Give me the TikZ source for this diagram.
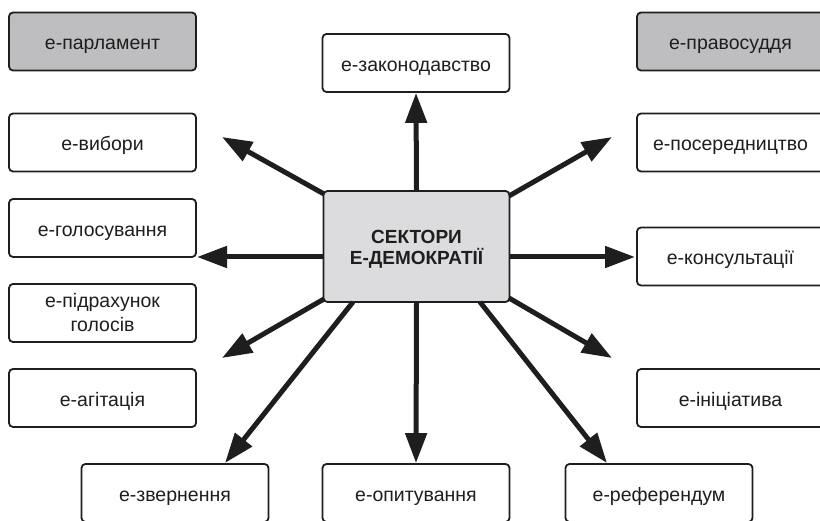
\documentclass[tikz,border=0pt]{standalone}
\usepackage{fontspec}
\setmainfont{Liberation Sans}
\usetikzlibrary{arrows.meta}
\definecolor{boxgray}{RGB}{190,190,192}
\definecolor{centgray}{RGB}{220,220,222}
\definecolor{ink}{RGB}{30,30,30}
\begin{document}
\begin{tikzpicture}[x=1pt,y=-1pt,
  sbox/.style={draw=ink, line width=1.8pt, rounded corners=4pt, minimum width=187pt, minimum height=58pt, inner sep=0pt, font=\fontsize{19.5}{24}\selectfont, align=center, fill=white, text=ink, text height=22pt, text depth=5pt},
  gbox/.style={sbox, fill=boxgray},
  twoline/.style={text height=, text depth=},
  cbox/.style={sbox, twoline, fill=centgray, minimum width=186pt, minimum height=111pt, font=\fontsize{19}{21.7}\selectfont\bfseries},
  arr/.style={draw=ink, line width=5pt, -{Triangle[length=30pt,width=21pt]}}]
\useasboundingbox (0,0) rectangle (820,521);
% nodes
\node[gbox] (parl) at (102.5,41.5) {е-парламент};
\node[sbox] (zak) at (416,63) {е-законодавство};
\node[gbox] (prav) at (730.5,41.5) {е-правосуддя};
\node[sbox] (vyb) at (102.5,142.5) {е-вибори};
\node[sbox] (pos) at (730.5,142.5) {е-посередництво};
\node[sbox] (hol) at (102.5,228) {е-голосування};
\node[cbox] (c) at (416.5,246.5) {\rule{0pt}{19.3pt}СЕКТОРИ\\Е-ДЕМОКРАТІЇ\rule[-4pt]{0pt}{4pt}};
\node[sbox] (kons) at (730.5,256.5) {е-консультації};
\node[sbox, twoline] (pidr) at (102.5,313) {\rule{0pt}{15pt}е-підрахунок\\голосів\rule[-1pt]{0pt}{1pt}};
\node[sbox] (ahit) at (102.5,398) {е-агітація};
\node[sbox] (init) at (730.5,398) {е-ініціатива};
\node[sbox] (zvern) at (175,493) {е-звернення};
\node[sbox] (opyt) at (416,493) {е-опитування};
\node[sbox] (ref) at (659,493) {е-референдум};
% free ends and start points
\coordinate (sUL) at (324,194);
\coordinate (eUL) at (222,137);
\coordinate (sUR) at (509,196);
\coordinate (eUR) at (612,137);
\coordinate (sL) at (323,257);
\coordinate (eL) at (197,257);
\coordinate (sR) at (510,257);
\coordinate (eR) at (635,257);
\coordinate (sLL) at (324,299);
\coordinate (eLL) at (222,358);
\coordinate (sLR) at (509,298);
\coordinate (eLR) at (612,358);
\coordinate (sBL) at (353,302);
\coordinate (eBL) at (225,463);
\coordinate (sBR) at (480,302);
\coordinate (eBR) at (607,463);
% connectors
\draw[arr] (c.north) -- (zak.south);
\draw[arr] (c.south) -- (opyt.north);
\draw[arr] (sUL) -- (eUL);
\draw[arr] (sUR) -- (eUR);
\draw[arr] (sL) -- (eL);
\draw[arr] (sR) -- (eR);
\draw[arr] (sLL) -- (eLL);
\draw[arr] (sLR) -- (eLR);
\draw[arr] (sBL) -- (eBL);
\draw[arr] (sBR) -- (eBR);
\end{tikzpicture}
\end{document}
